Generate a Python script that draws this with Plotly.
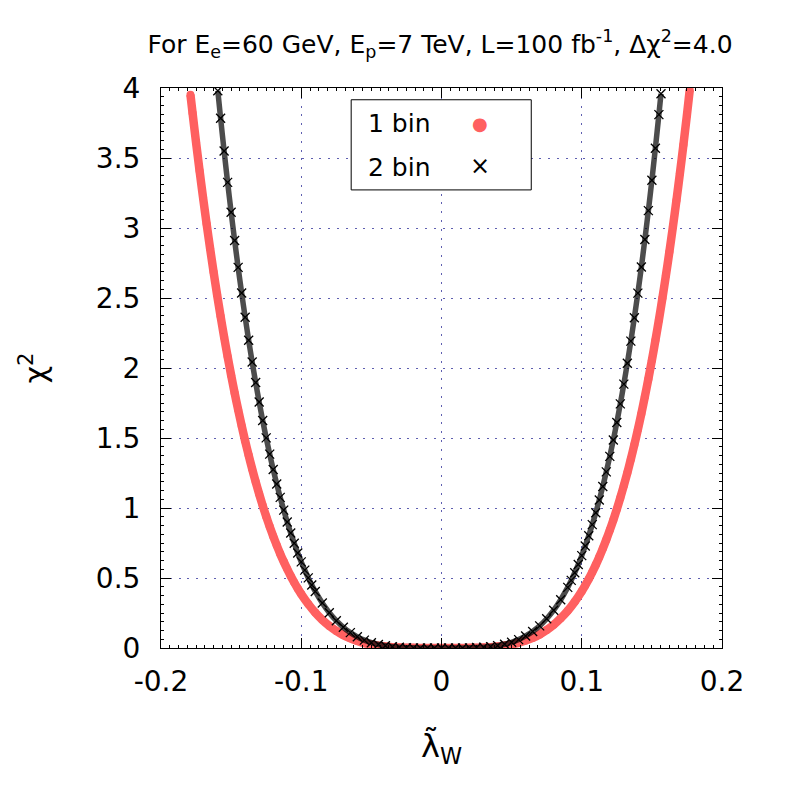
import plotly.graph_objects as go

# ---- data ----
lam_1bin = [-0.179, -0.1775, -0.175, -0.1725, -0.17, -0.1675, -0.165, -0.1625, -0.16, -0.1575,
            -0.155, -0.1525, -0.15, -0.1475, -0.145, -0.1425, -0.14, -0.1375, -0.135, -0.1325,
            -0.13, -0.1275, -0.125, -0.1225, -0.12, -0.1175, -0.115, -0.1125, -0.11, -0.1075,
            -0.105, -0.1025, -0.1, -0.095, -0.09, -0.085, -0.08, -0.075, -0.07, -0.065,
            -0.06, -0.055, -0.05, -0.045, -0.04, -0.035, -0.03, -0.025, -0.02, -0.015,
            -0.01, -0.005, 0.0, 0.005, 0.01, 0.015, 0.02, 0.025, 0.03, 0.035,
            0.04, 0.045, 0.05, 0.055, 0.06, 0.065, 0.07, 0.075, 0.08, 0.085,
            0.09, 0.095, 0.1, 0.1025, 0.105, 0.1075, 0.11, 0.1125, 0.115, 0.1175,
            0.12, 0.1225, 0.125, 0.1275, 0.13, 0.1325, 0.135, 0.1375, 0.14, 0.1425,
            0.145, 0.1475, 0.15, 0.1525, 0.155, 0.1575, 0.16, 0.1625, 0.165, 0.1675,
            0.17, 0.1725, 0.175, 0.177]
chi2_1bin = [3.952, 3.822, 3.611, 3.409, 3.216, 3.031, 2.854, 2.685, 2.523, 2.369,
             2.222, 2.082, 1.949, 1.822, 1.702, 1.588, 1.479, 1.376, 1.279, 1.187,
             1.100, 1.017, 0.940, 0.867, 0.798, 0.734, 0.673, 0.617, 0.564, 0.514,
             0.468, 0.425, 0.385, 0.314, 0.253, 0.201, 0.158, 0.122, 0.092, 0.069,
             0.050, 0.035, 0.024, 0.016, 0.010, 0.006, 0.003, 0.002, 0.001, 0.000,
             0.000, 0.000, 0.000, 0.000, 0.000, 0.000, 0.001, 0.002, 0.003, 0.006,
             0.010, 0.017, 0.025, 0.037, 0.053, 0.072, 0.097, 0.128, 0.166, 0.212,
             0.266, 0.331, 0.406, 0.448, 0.493, 0.542, 0.594, 0.650, 0.710, 0.774,
             0.842, 0.914, 0.991, 1.073, 1.160, 1.251, 1.349, 1.451, 1.560, 1.674,
             1.795, 1.922, 2.055, 2.196, 2.343, 2.498, 2.661, 2.831, 3.009, 3.196,
             3.391, 3.595, 3.808, 3.985]

lam_2bin = [-0.1595, -0.1575, -0.155, -0.1525, -0.15, -0.1475, -0.145, -0.1425, -0.14, -0.1375,
            -0.135, -0.1325, -0.13, -0.1275, -0.125, -0.1225, -0.12, -0.1175, -0.115, -0.1125,
            -0.11, -0.1075, -0.105, -0.1025, -0.1, -0.0975, -0.095, -0.0925, -0.09, -0.085,
            -0.08, -0.075, -0.07, -0.065, -0.06, -0.055, -0.05, -0.045, -0.04, -0.035,
            -0.03, -0.025, -0.02, -0.015, -0.01, -0.005, 0.0, 0.005, 0.01, 0.015,
            0.02, 0.025, 0.03, 0.035, 0.04, 0.045, 0.05, 0.055, 0.06, 0.065,
            0.07, 0.075, 0.08, 0.085, 0.09, 0.0925, 0.095, 0.0975, 0.1, 0.1025,
            0.105, 0.1075, 0.11, 0.1125, 0.115, 0.1175, 0.12, 0.1225, 0.125, 0.1275,
            0.13, 0.1325, 0.135, 0.1375, 0.14, 0.1425, 0.145, 0.1475, 0.15, 0.1525,
            0.155, 0.1565]
chi2_2bin = [3.980, 3.784, 3.550, 3.326, 3.113, 2.911, 2.719, 2.536, 2.363, 2.198,
             2.043, 1.896, 1.757, 1.625, 1.501, 1.385, 1.275, 1.172, 1.076, 0.985,
             0.900, 0.821, 0.748, 0.679, 0.615, 0.556, 0.501, 0.450, 0.404, 0.321,
             0.252, 0.195, 0.148, 0.110, 0.080, 0.056, 0.038, 0.025, 0.016, 0.009,
             0.005, 0.002, 0.001, 0.000, 0.000, 0.000, 0.000, 0.000, 0.000, 0.000,
             0.001, 0.003, 0.005, 0.010, 0.017, 0.027, 0.041, 0.060, 0.086, 0.118,
             0.158, 0.209, 0.270, 0.345, 0.433, 0.483, 0.538, 0.596, 0.660, 0.729,
             0.802, 0.881, 0.966, 1.057, 1.154, 1.258, 1.369, 1.486, 1.611, 1.744,
             1.885, 2.034, 2.192, 2.359, 2.535, 2.721, 2.918, 3.124, 3.341, 3.570,
             3.810, 3.959]

x_ticks = [-0.2, -0.1, 0, 0.1, 0.2]
x_tick_labels = ["-0.2", "-0.1", "0", "0.1", "0.2"]
y_ticks = [0, 0.5, 1, 1.5, 2, 2.5, 3, 3.5, 4]
y_tick_labels = ["0", "0.5", "1", "1.5", "2", "2.5", "3", "3.5", "4"]
series_names = ["1 bin", "2 bin"]

RED = "#ff6060"
FONT = "DejaVu Sans"

fig = go.Figure()

fig.add_trace(go.Scatter(
    x=lam_1bin, y=chi2_1bin, mode="lines+markers", name=series_names[0],
    line=dict(color=RED, width=8.5, shape="spline", smoothing=0.6),
    marker=dict(color=RED, size=8, symbol="circle"),
    showlegend=False, cliponaxis=True))

fig.add_trace(go.Scatter(
    x=lam_2bin, y=chi2_2bin, mode="lines+markers", name=series_names[1],
    line=dict(color="rgba(0,0,0,0.7)", width=5.5, shape="spline", smoothing=0.6),
    marker=dict(color="black", size=9, symbol="x-thin-open", line=dict(width=1.3, color="black")),
    showlegend=False, cliponaxis=True))

axis_common = dict(
    showline=True, linecolor="black", linewidth=1, mirror="allticks",
    ticks="inside", ticklen=10, tickwidth=1, tickcolor="black",
    showgrid=True, gridcolor="rgba(40,40,150,0.75)", gridwidth=1, griddash="2px,6.8px",
    zeroline=False,
    tickfont=dict(family=FONT, size=28, color="black"),
)

fig.update_xaxes(
    range=[-0.2, 0.2], tickvals=x_ticks, ticktext=x_tick_labels,
    minor=dict(dtick=0.00625, ticklen=3, ticks="inside", tickcolor="black", showgrid=False),
    ticklabelstandoff=8,
    title=dict(text="λ̃<sub>W</sub>", font=dict(family=FONT, size=32, color="black"), standoff=38),
    **axis_common)
fig.update_yaxes(
    range=[0, 4], tickvals=y_ticks, ticktext=y_tick_labels,
    minor=dict(dtick=0.0625, ticklen=3, ticks="inside", tickcolor="black", showgrid=False),
    ticklabelstandoff=14,
    title=dict(text="χ<sup>2</sup>", font=dict(family=FONT, size=30, color="black"), standoff=40),
    **axis_common)

# gnuplot-style legend box (text left, sample right)
fig.add_shape(type="rect", xref="paper", yref="paper",
              x0=0.339, x1=0.660, y0=0.818, y1=0.979,
              line=dict(color="black", width=1), fillcolor="white", layer="above")
fig.add_annotation(xref="paper", yref="paper", x=0.365, y=0.937, text=series_names[0],
                   showarrow=False, xanchor="left", yanchor="middle",
                   font=dict(family=FONT, size=25, color="black"))
fig.add_annotation(xref="paper", yref="paper", x=0.365, y=0.858, text=series_names[1],
                   showarrow=False, xanchor="left", yanchor="middle",
                   font=dict(family=FONT, size=25, color="black"))
fig.add_annotation(xref="paper", yref="paper", x=0.569, y=0.937, text="●",
                   showarrow=False, xanchor="center", yanchor="middle",
                   font=dict(family=FONT, size=18, color=RED))
fig.add_annotation(xref="paper", yref="paper", x=0.569, y=0.860, text="×",
                   showarrow=False, xanchor="center", yanchor="middle",
                   font=dict(family=FONT, size=24, color="black"))

fig.update_layout(
    width=800, height=800,
    margin=dict(l=152.5, r=86, t=80, b=160),
    paper_bgcolor="white", plot_bgcolor="white",
    title=dict(text="For E<sub>e</sub>=60 GeV, E<sub>p</sub>=7 TeV, L=100 fb<sup>-1</sup>, Δχ<sup>2</sup>=4.0",
               x=0.54, xanchor="center", y=0.955, yanchor="middle",
               font=dict(family=FONT, size=25, color="black")),
    showlegend=False,
)

fig.write_html("out.html")
